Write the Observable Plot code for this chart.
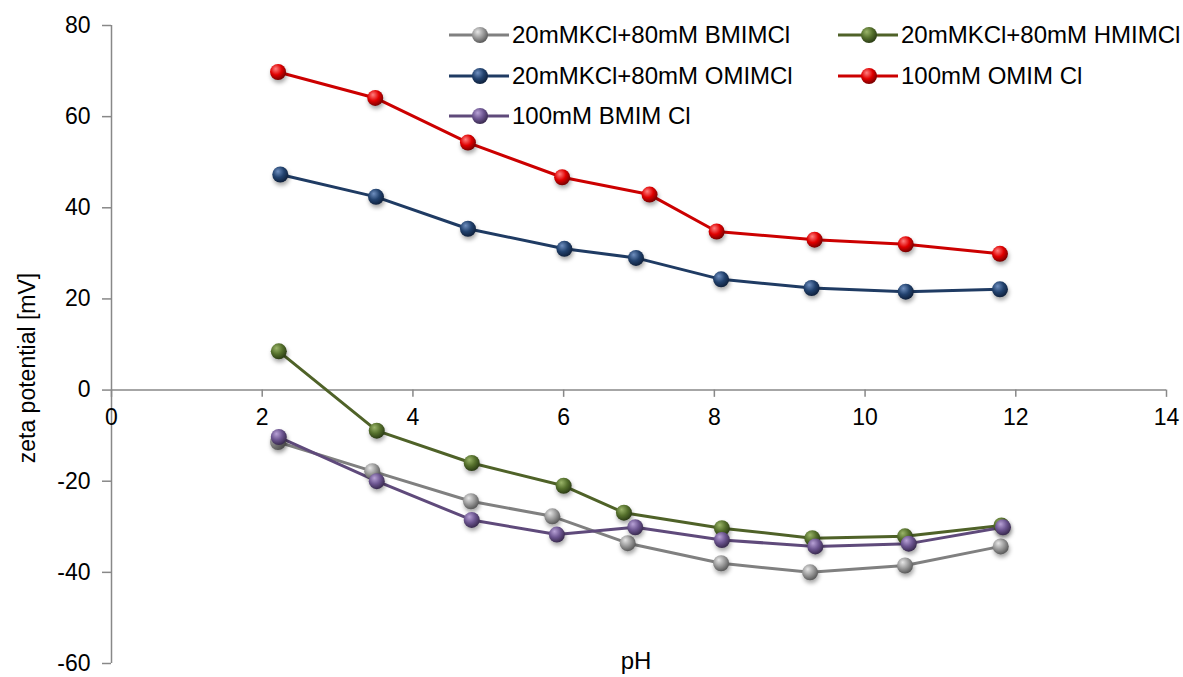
<!DOCTYPE html>
<html>
<head>
<meta charset="utf-8">
<script src="https://cdn.jsdelivr.net/npm/d3@7"></script>
<script src="https://cdn.jsdelivr.net/npm/@observablehq/plot@0.6"></script>
<style>
  html, body { margin: 0; padding: 0; background: #fff; }
  #wrap { position: relative; width: 1183px; height: 677px; font-family: "Liberation Sans", Arial, sans-serif; }
  #wrap svg.plot { position: absolute; left: 0; top: 0; }
  .leg { position: absolute; display: flex; align-items: center; font-size: 24px; color: #000; white-space: nowrap; }
  .leg svg { margin-right: 3px; }
  .ylab { position: absolute; font-size: 23px; transform: translate(-50%, -50%) rotate(-90deg); white-space: nowrap; }
  .xlab { position: absolute; font-size: 24px; transform: translate(-50%, -50%); }
  g[aria-label="dot"] circle { filter: drop-shadow(1px 3px 2px rgba(0,0,0,0.35)); }
</style>
</head>
<body>
<div id="wrap"></div>
<script>
const seriesNames = [
  "20mMKCl+80mM BMIMCl",
  "20mMKCl+80mM HMIMCl",
  "20mMKCl+80mM OMIMCl",
  "100mM OMIM Cl",
  "100mM BMIM Cl"
];
const seriesColors = ["#808080", "#4f6228", "#1f3b63", "#cc0000", "#5f4a7b"];
const gradStops = [
  ["#e6e6e6", "#9a9a9a", "#5a5a5a"],
  ["#9bb56a", "#55702c", "#2c3d15"],
  ["#6f8fbf", "#22426e", "#0f213d"],
  ["#ff8080", "#e00000", "#7a0000"],
  ["#b8a2d6", "#6c5590", "#3a2b50"]
];

const pH_BMIM_KCl = [2.21, 3.46, 4.77, 5.85, 6.85, 8.09, 9.27, 10.53, 11.80];
const zeta_BMIM_KCl = [-11.4, -17.8, -24.4, -27.7, -33.6, -38.0, -40.0, -38.5, -34.3];

const pH_HMIM_KCl = [2.22, 3.52, 4.78, 6.00, 6.80, 8.10, 9.30, 10.53, 11.81];
const zeta_HMIM_KCl = [8.5, -8.9, -16.0, -21.0, -26.9, -30.3, -32.5, -32.1, -29.7];

const pH_OMIM_KCl = [2.24, 3.51, 4.73, 6.01, 6.96, 8.09, 9.29, 10.54, 11.79];
const zeta_OMIM_KCl = [47.3, 42.4, 35.4, 31.0, 29.0, 24.3, 22.4, 21.6, 22.1];

const pH_OMIM = [2.21, 3.50, 4.73, 5.98, 7.14, 8.03, 9.33, 10.54, 11.79];
const zeta_OMIM = [69.8, 64.1, 54.3, 46.7, 42.9, 34.8, 33.0, 32.0, 29.9];

const pH_BMIM = [2.22, 3.52, 4.78, 5.91, 6.95, 8.10, 9.34, 10.58, 11.83];
const zeta_BMIM = [-10.3, -20.0, -28.5, -31.7, -30.1, -32.9, -34.3, -33.7, -30.1];

const xTicks = [0, 2, 4, 6, 8, 10, 12, 14];
const yTicks = [-60, -40, -20, 0, 20, 40, 60, 80];

const seriesXs = [pH_BMIM_KCl, pH_HMIM_KCl, pH_OMIM_KCl, pH_OMIM, pH_BMIM];
const seriesYs = [zeta_BMIM_KCl, zeta_HMIM_KCl, zeta_OMIM_KCl, zeta_OMIM, zeta_BMIM];

const data = [];
seriesNames.forEach((name, s) => {
  seriesXs[s].forEach((x, i) => data.push({series: name, idx: s, x, y: seriesYs[s][i]}));
});

const gradId = s => `sph${s}`;

const lineMarks = [];
const dotMarks = [];
seriesNames.forEach((name, s) => {
  const d = data.filter(r => r.idx === s);
  lineMarks.push(Plot.line(d, {x: "x", y: "y", stroke: seriesColors[s], strokeWidth: 3}));
  dotMarks.push(Plot.dot(d, {x: "x", y: "y", r: 8, fill: `url(#${gradId(s)})`, stroke: "none"}));
});

const chart = Plot.plot({
  width: 1183,
  height: 677,
  marginLeft: 111,
  marginRight: 17,
  marginTop: 25,
  marginBottom: 14,
  style: {fontFamily: "'Liberation Sans', Arial, sans-serif", fontSize: "23px", color: "#000", background: "transparent", overflow: "visible"},
  x: {domain: [0, 14], axis: null},
  y: {domain: [-60, 80]},
  marks: [
    Plot.ruleX([0], {stroke: "#888", strokeWidth: 1.5}),
    Plot.ruleY([0], {stroke: "#888", strokeWidth: 1.5}),
    Plot.ruleX(xTicks, {x: d => d, y1: 0, y2: -1.6, stroke: "#888", strokeWidth: 1.5}),
    Plot.text(xTicks, {x: d => d, y: 0, text: d => String(d), dy: 28, fontSize: 23, fill: "#000"}),
    Plot.axisY({ticks: yTicks, tickSize: 9, tickPadding: 12, stroke: "#888", strokeWidth: 1.5, fontSize: 23, label: null, tickFormat: d => String(d)}),
    ...lineMarks,
    ...dotMarks
  ]
});
chart.classList.add("plot");

const wrap = document.getElementById("wrap");
wrap.appendChild(chart);

// gradients for spherical markers
const defs = d3.select(chart).insert("defs", ":first-child");
gradStops.forEach((stops, s) => {
  const g = defs.append("radialGradient").attr("id", gradId(s))
    .attr("cx", "40%").attr("cy", "35%").attr("r", "65%").attr("fx", "35%").attr("fy", "30%");
  g.append("stop").attr("offset", "0%").attr("stop-color", stops[0]);
  g.append("stop").attr("offset", "55%").attr("stop-color", stops[1]);
  g.append("stop").attr("offset", "100%").attr("stop-color", stops[2]);
});

// legend
const legendPos = [[449, 35], [838, 35], [449, 76], [838, 76], [449, 116]];
seriesNames.forEach((name, s) => {
  const item = document.createElement("div");
  item.className = "leg";
  item.style.left = legendPos[s][0] + "px";
  item.style.top = (legendPos[s][1] - 14) + "px";
  item.style.height = "28px";
  item.innerHTML = `<svg width="60" height="20" viewBox="0 0 60 20"><line x1="0" y1="10" x2="60" y2="10" stroke="${seriesColors[s]}" stroke-width="3"/><circle cx="31" cy="10" r="8" fill="url(#${gradId(s)})"/></svg><span>${name}</span>`;
  wrap.appendChild(item);
});

const ylab = document.createElement("div");
ylab.className = "ylab";
ylab.textContent = "zeta potential [mV]";
ylab.style.left = "27px";
ylab.style.top = "368px";
wrap.appendChild(ylab);

const xlab = document.createElement("div");
xlab.className = "xlab";
xlab.textContent = "pH";
xlab.style.left = "636px";
xlab.style.top = "661px";
wrap.appendChild(xlab);
</script>
</body>
</html>
